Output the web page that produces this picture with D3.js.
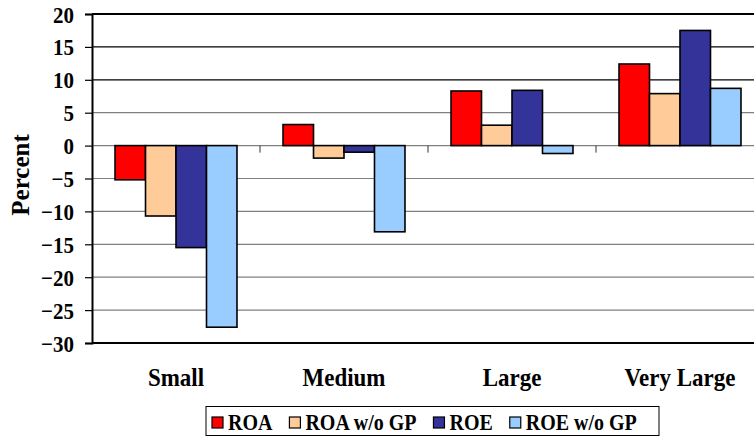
<!DOCTYPE html>
<html><head><meta charset="utf-8">
<script src="https://cdn.jsdelivr.net/npm/d3@7"></script>
<style>body{margin:0;background:#fff}svg{display:block}</style>
</head><body>
<svg id="c" width="754" height="438"></svg>
<script>
const categories = ["Small","Medium","Large","Very Large"];
const seriesNames = ["ROA","ROA w/o GP","ROE","ROE w/o GP"];
const roa      = [-5.2, 3.2, 8.3, 12.4];
const roaWoGP  = [-10.7, -1.9, 3.1, 7.9];
const roe      = [-15.5, -1.0, 8.4, 17.5];
const roeWoGP  = [-27.6, -13.1, -1.2, 8.7];
const yTicks   = [20,15,10,5,0,-5,-10,-15,-20,-25,-30];
const colors   = ["#FF0000","#FFCC99","#333399","#99CCFF"];
const seriesValues = [roa, roaWoGP, roe, roeWoGP];

const FONT = "'Liberation Serif', 'Times New Roman', Times, serif";
const STRETCH = 1.12;
const svg = d3.select("#c");
const mLeft = 92, mRight = 764, mTop = 14, mBottom = 343;
const y = d3.scaleLinear().domain([-30,20]).range([mBottom, mTop]);
const x0 = d3.scaleBand().domain(categories).range([mLeft, mRight]).paddingInner(0).paddingOuter(0);
const x1 = d3.scaleBand().domain(seriesNames).range([x0.bandwidth()*0.137, x0.bandwidth()*0.863]);

// gridlines
svg.append("g").selectAll("line").data(yTicks).join("line")
  .attr("x1", mLeft).attr("x2", 754)
  .attr("y1", d => y(d)).attr("y2", d => y(d))
  .attr("stroke", d => (d === 20 || d === -30) ? "#000" : (d >= 10 ? "#000" : "#808080"))
  .attr("stroke-width", d => (d === 20 || d === -30) ? 2 : 1.2);

// bars
const groups = svg.append("g").selectAll("g").data(categories).join("g")
  .attr("transform", c => `translate(${x0(c)},0)`);
groups.selectAll("rect").data((c, i) => seriesNames.map((s, j) => ({s, v: seriesValues[j][i], j})))
  .join("rect")
  .attr("x", d => x1(d.s))
  .attr("width", x1.bandwidth())
  .attr("y", d => y(Math.max(0, d.v)))
  .attr("height", d => Math.abs(y(d.v) - y(0)))
  .attr("fill", d => colors[d.j])
  .attr("stroke", "#000").attr("stroke-width", 1.6);

// category ticks on zero line
svg.append("g").selectAll("line").data(categories.slice(1)).join("line")
  .attr("x1", c => x0(c)).attr("x2", c => x0(c))
  .attr("y1", y(0)).attr("y2", y(0) + 7)
  .attr("stroke", "#333").attr("stroke-width", 1);

// y axis
const yAxis = d3.axisLeft(y).tickValues(yTicks).tickSize(7).tickPadding(11).tickFormat(d3.format("d"));
const ya = svg.append("g").attr("transform", `translate(${mLeft},0)`).call(yAxis)
  .attr("font-family", FONT).attr("font-size", 21).attr("font-weight", "bold");
ya.select(".domain").attr("stroke", "#000").attr("stroke-width", 2);
ya.selectAll(".tick line").attr("stroke", "#000").attr("stroke-width", 1.2);
ya.selectAll(".tick text").attr("fill", "#000").attr("dy", "0.34em")
  .attr("transform", `scale(1,${STRETCH})`)
  .style("font-family", FONT).style("font-weight", "bold").style("font-size", "21px");

const txt = sel => sel.style("font-family", FONT).style("font-weight", "bold").attr("fill", "#000");

// category labels
svg.append("g").selectAll("text").data(categories).join("text")
  .attr("transform", c => `translate(${x0(c) + x0.bandwidth()/2},386) scale(1,${STRETCH})`)
  .attr("text-anchor", "middle").style("font-size", "23px").text(c => c).call(txt);

// y title
svg.append("text").attr("transform", "translate(29,175) rotate(-90)")
  .attr("text-anchor", "middle").style("font-size", "25px").text("Percent").call(txt);

// legend
const lg = svg.append("g");
lg.append("rect").attr("x", 206).attr("y", 406.5).attr("width", 453).attr("height", 29)
  .attr("fill", "#fff").attr("stroke", "#000").attr("stroke-width", 1);
let cx = 212;
seriesNames.forEach((s, j) => {
  lg.append("rect").attr("x", cx).attr("y", 417).attr("width", 11).attr("height", 11)
    .attr("fill", colors[j]).attr("stroke", "#000").attr("stroke-width", 1.2);
  const t = lg.append("text").attr("transform", `translate(${cx + 16},430) scale(1,${STRETCH})`)
    .style("font-size", "20px").text(s).call(txt);
  cx = cx + 16 + t.node().getComputedTextLength() + 17;
});
</script>
</body></html>
